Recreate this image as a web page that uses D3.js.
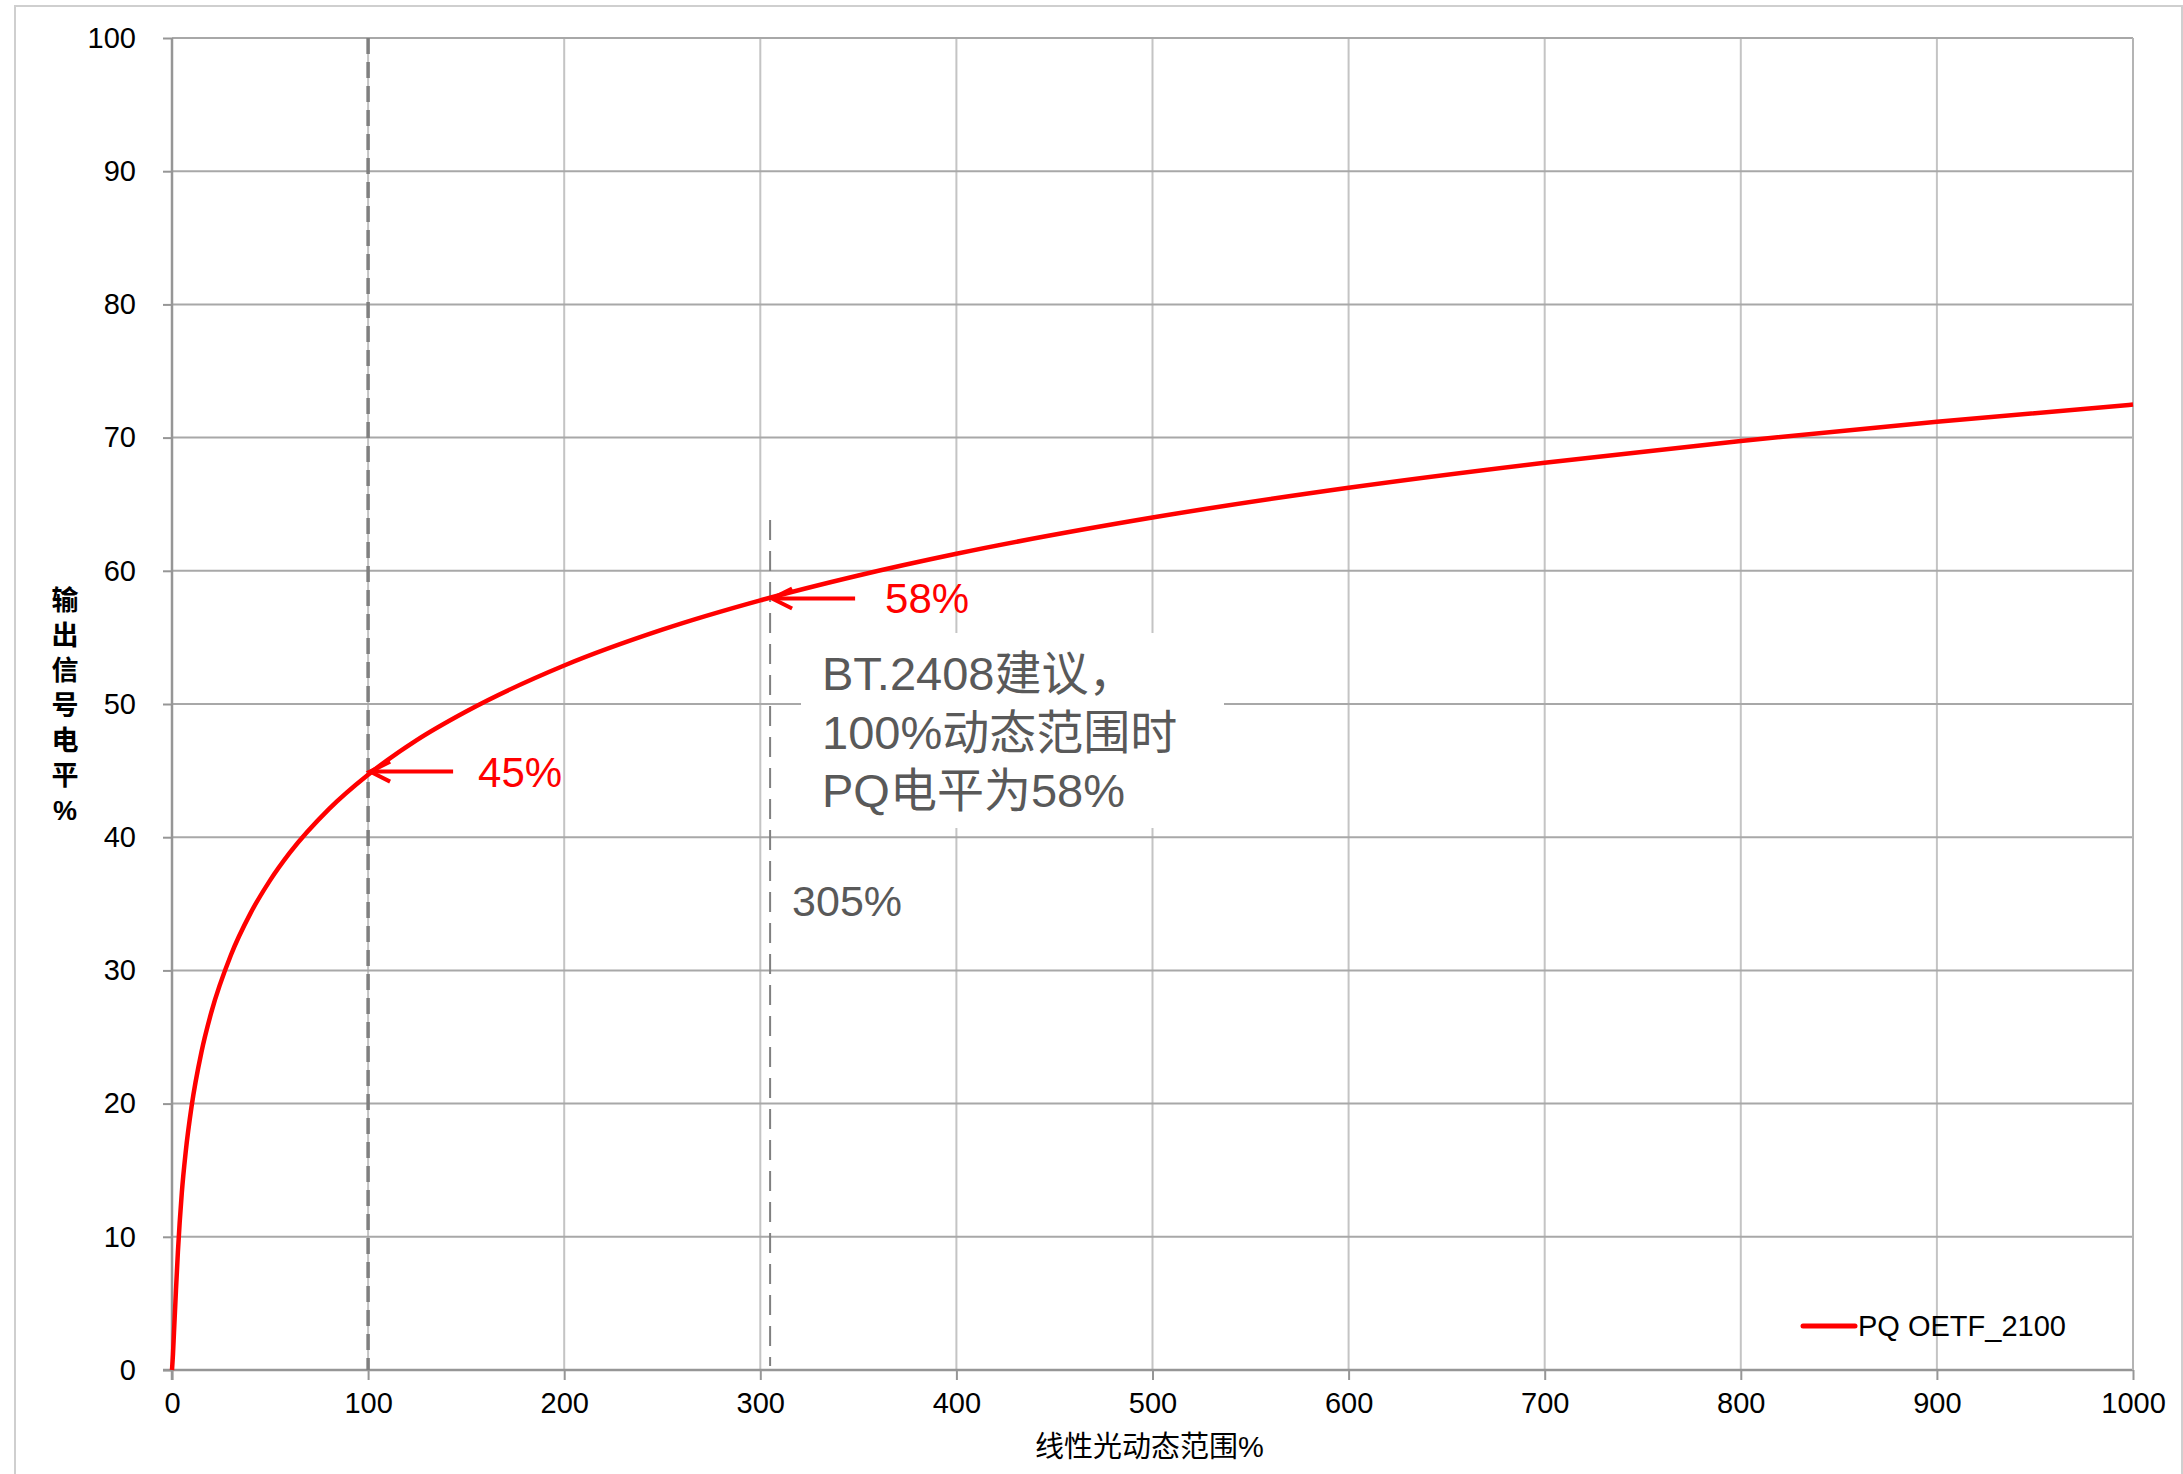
<!DOCTYPE html>
<html>
<head>
<meta charset="utf-8">
<script src="https://cdn.jsdelivr.net/npm/d3@7"></script>
<style>
  html, body { margin: 0; padding: 0; background: #ffffff; }
  svg { display: block; }
  .lat { font-family: "Liberation Sans", Arial, "Noto Sans CJK SC", sans-serif; }
  .cjk { font-family: "Liberation Sans", Arial, "Noto Sans CJK SC", sans-serif; }
</style>
</head>
<body>
<script>
// ---------- data ----------
const xTicks = [0, 100, 200, 300, 400, 500, 600, 700, 800, 900, 1000];
const yTicks = [0, 10, 20, 30, 40, 50, 60, 70, 80, 90, 100];

// linear light dynamic range (%)  ->  PQ output signal level (%)
const linearPct = [0, 0.5, 1, 2, 3, 5, 7, 10, 15, 20, 30, 40, 50, 60, 80, 100, 125, 150,
                   200, 250, 300, 350, 400, 500, 600, 700, 800, 900, 1000];
const pqLevel   = [0, 1.19, 2.78, 5.93, 8.84, 13.30, 16.39, 19.81, 23.86, 26.83, 31.14, 34.28, 36.76, 38.82,
                   42.11, 44.69, 47.31, 49.44, 52.89, 55.58, 57.78, 59.65, 61.28, 64.00, 66.23, 68.11,
                   69.75, 71.19, 72.48];

const seriesName = "PQ OETF_2100";
const xTitle = "线性光动态范围%";
const yTitle = ["输", "出", "信", "号", "电", "平", "%"];

const markerX = [100, 305];
const markerY = [45, 58];
const markerLabels = ["45%", "58%"];

const noteLines = ["BT.2408建议，", "100%动态范围时", "PQ电平为58%"];
const noteX = 305;
const noteXLabel = "305%";

// ---------- layout ----------
const W = 2183, H = 1474;
const L = 172, R = 2133, T = 38, B = 1370;
const labelGap = [109, 114];

const svg = d3.select("body").append("svg")
  .attr("width", W).attr("height", H)
  .attr("viewBox", `0 0 ${W} ${H}`);

svg.append("rect").attr("x", 0).attr("y", 0).attr("width", W).attr("height", H).attr("fill", "#fff");

// outer frame
svg.append("path")
  .attr("d", `M15,${H} L15,6 L2182,6 L2182,${H}`)
  .attr("fill", "none").attr("stroke", "#cfcfcf").attr("stroke-width", 2);

const x = d3.scaleLinear().domain([0, 1000]).range([L, R]);
const y = d3.scaleLinear().domain([0, 100]).range([B, T]);

// vertical gridlines
svg.append("g").selectAll("line").data(xTicks.filter(d => d > 0)).join("line")
  .attr("x1", d => x(d)).attr("x2", d => x(d))
  .attr("y1", T).attr("y2", B)
  .attr("stroke", "#c4c4c4").attr("stroke-width", 2);

// horizontal gridlines
svg.append("g").selectAll("line").data(yTicks.filter(d => d > 0)).join("line")
  .attr("x1", L).attr("x2", R)
  .attr("y1", d => y(d)).attr("y2", d => y(d))
  .attr("stroke", "#a8a8a8").attr("stroke-width", 2);

// annotation background box (hides grid behind the note)
svg.append("rect")
  .attr("x", 801).attr("y", 633).attr("width", 423).attr("height", 195)
  .attr("fill", "#ffffff");

// axes
const xAxis = d3.axisBottom(x).tickValues(xTicks).tickSize(10).tickPadding(12).tickFormat(d3.format("d"));
const yAxis = d3.axisLeft(y).tickValues(yTicks).tickSize(9).tickPadding(27).tickFormat(d3.format("d"));

const gx = svg.append("g").attr("transform", `translate(0,${B})`).call(xAxis);
const gy = svg.append("g").attr("transform", `translate(${L},0)`).call(yAxis);

[gx, gy].forEach(g => {
  g.select(".domain").remove();
  g.selectAll(".tick line").attr("stroke", "#969696").attr("stroke-width", 2);
  g.selectAll(".tick text")
    .attr("class", "lat")
    .attr("fill", "#000")
    .style("font-size", "29px");
});
// axis lines
svg.append("line").attr("x1", L - 9).attr("x2", R).attr("y1", B).attr("y2", B)
  .attr("stroke", "#969696").attr("stroke-width", 2.5);
svg.append("line").attr("x1", L).attr("x2", L).attr("y1", T).attr("y2", B + 10)
  .attr("stroke", "#969696").attr("stroke-width", 2.5);
svg.append("line").attr("x1", R).attr("x2", R).attr("y1", T).attr("y2", B)
  .attr("stroke", "#b4b4b4").attr("stroke-width", 2);

// dashed reference line at 100%
svg.append("line")
  .attr("x1", x(markerX[0])).attr("x2", x(markerX[0]))
  .attr("y1", T).attr("y2", B)
  .attr("stroke", "#7f7f7f").attr("stroke-width", 3.5)
  .attr("stroke-dasharray", "16 8");

// dashed reference line at 305%
svg.append("line")
  .attr("x1", x(noteX)).attr("x2", x(noteX))
  .attr("y1", 520).attr("y2", B - 4)
  .attr("stroke", "#808080").attr("stroke-width", 2)
  .attr("stroke-dasharray", "20 11");

// curve
const line = d3.line()
  .x((d, i) => x(linearPct[i]))
  .y((d, i) => y(pqLevel[i]))
  .curve(d3.curveMonotoneX);

svg.append("path")
  .datum(pqLevel)
  .attr("d", line)
  .attr("fill", "none")
  .attr("stroke", "#ff0000")
  .attr("stroke-width", 4.5)
  .attr("stroke-linejoin", "round");

// arrows + labels
markerX.forEach((mx, i) => {
  const tx = x(mx) + 1, ty = y(markerY[i]) + 1;
  const g = svg.append("g");
  g.append("line").attr("x1", tx + 2).attr("x2", tx + 84).attr("y1", ty).attr("y2", ty)
    .attr("stroke", "#ff0000").attr("stroke-width", 4);
  g.append("path")
    .attr("d", `M${tx + 21},${ty - 10} L${tx + 1},${ty} L${tx + 21},${ty + 10}`)
    .attr("fill", "none").attr("stroke", "#ff0000").attr("stroke-width", 4);
  g.append("text").attr("class", "lat")
    .attr("x", tx + labelGap[i]).attr("y", ty + 15)
    .attr("fill", "#ff0000")
    .style("font-size", "42px")
    .text(markerLabels[i]);
});

// note text
svg.append("g").selectAll("text").data(noteLines).join("text")
  .attr("class", "cjk")
  .attr("x", 822).attr("y", (d, i) => 690 + i * 58.5)
  .attr("fill", "#595959")
  .style("font-size", "47px")
  .text(d => d);

svg.append("text").attr("class", "lat")
  .attr("x", x(noteX) + 22).attr("y", 916)
  .attr("fill", "#595959")
  .style("font-size", "43px")
  .text(noteXLabel);

// axis titles
svg.append("text").attr("class", "cjk")
  .attr("x", (L + R) / 2 - 3).attr("y", 1457)
  .attr("text-anchor", "middle")
  .attr("fill", "#000")
  .style("font-size", "29px")
  .text(xTitle);

svg.append("g").selectAll("text").data(yTitle).join("text")
  .attr("class", "cjk")
  .attr("x", 65).attr("y", (d, i) => 601 + i * 35)
  .attr("text-anchor", "middle")
  .attr("dominant-baseline", "central")
  .attr("fill", "#000")
  .style("font-size", "27px")
  .style("font-weight", "600")
  .text(d => d);

// legend
const lg = svg.append("g");
lg.append("line").attr("x1", 1803).attr("x2", 1855).attr("y1", 1326).attr("y2", 1326)
  .attr("stroke", "#ff0000").attr("stroke-width", 5).attr("stroke-linecap", "round");
lg.append("text").attr("class", "lat")
  .attr("x", 1858).attr("y", 1336)
  .attr("fill", "#000")
  .style("font-size", "29px")
  .text(seriesName);
</script>
</body>
</html>
